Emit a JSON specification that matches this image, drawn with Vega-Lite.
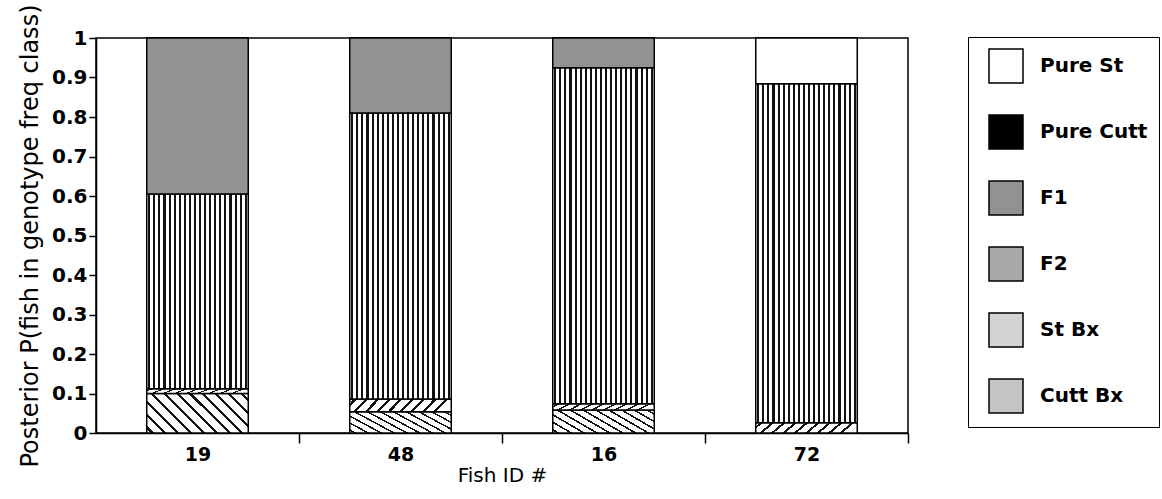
{
  "$schema": "https://vega.github.io/schema/vega-lite/v6.json",
  "width": 812,
  "height": 395,
  "autosize": "none",
  "padding": {"left": 96, "top": 38, "right": 254, "bottom": 66},
  "background": "white",
  "config": {
    "view": {"stroke": "black", "strokeWidth": 1.5},
    "font": "DejaVu Sans"
  },
  "data": {
    "values": [
      {"fish": "19", "cls": "Cutt Bx", "k": 1, "p": 0.10},
      {"fish": "19", "cls": "St Bx", "k": 2, "p": 0.012},
      {"fish": "19", "cls": "F2", "k": 3, "p": 0.493},
      {"fish": "19", "cls": "F1", "k": 4, "p": 0.395},
      {"fish": "48", "cls": "Cutt Bx", "k": 1, "p": 0.054},
      {"fish": "48", "cls": "St Bx", "k": 2, "p": 0.032},
      {"fish": "48", "cls": "F2", "k": 3, "p": 0.724},
      {"fish": "48", "cls": "F1", "k": 4, "p": 0.19},
      {"fish": "16", "cls": "Cutt Bx", "k": 1, "p": 0.058},
      {"fish": "16", "cls": "St Bx", "k": 2, "p": 0.016},
      {"fish": "16", "cls": "F2", "k": 3, "p": 0.851},
      {"fish": "16", "cls": "F1", "k": 4, "p": 0.075},
      {"fish": "72", "cls": "St Bx", "k": 2, "p": 0.026},
      {"fish": "72", "cls": "F2", "k": 3, "p": 0.858},
      {"fish": "72", "cls": "Pure St", "k": 6, "p": 0.116}
    ]
  },
  "encoding": {
    "x": {
      "field": "fish",
      "type": "nominal",
      "sort": ["19", "48", "16", "72"],
      "scale": {"paddingInner": 0.5, "paddingOuter": 0.25},
      "axis": {
        "title": "Fish ID #",
        "labelAngle": 0,
        "bandPosition": 1,
        "tickOffset": 50.75,
        "labelOffset": -50.75,
        "tickSize": 10,
        "tickColor": "black",
        "tickWidth": 1.5,
        "domainColor": "black",
        "domainWidth": 1.5,
        "labelFont": "DejaVu Sans",
        "labelFontSize": 19,
        "labelFontWeight": "bold",
        "labelColor": "black",
        "labelPadding": 2,
        "titleFont": "DejaVu Sans",
        "titleFontSize": 20,
        "titleFontWeight": "normal",
        "titleColor": "black",
        "titlePadding": 1
      }
    },
    "y": {
      "field": "p",
      "type": "quantitative",
      "stack": "zero",
      "scale": {"domain": [0, 1], "nice": false},
      "axis": {
        "title": "Posterior P(fish in genotype freq class)",
        "values": [0, 0.1, 0.2, 0.3, 0.4, 0.5, 0.6, 0.7, 0.8, 0.9, 1],
        "format": "~g",
        "grid": false,
        "domainColor": "black",
        "domainWidth": 1.5,
        "tickColor": "black",
        "tickWidth": 1.5,
        "tickSize": 7,
        "labelFont": "DejaVu Sans",
        "labelFontSize": 20,
        "labelFontWeight": "bold",
        "labelColor": "black",
        "labelPadding": 2,
        "titleFont": "DejaVu Sans",
        "titleFontSize": 24,
        "titleFontWeight": "normal",
        "titleColor": "black",
        "titlePadding": 9
      }
    }
  },
  "layer": [
    {
      "mark": {"type": "bar", "stroke": "black", "strokeWidth": 1.5},
      "encoding": {
        "color": {
          "field": "cls",
          "type": "nominal",
          "scale": {
            "domain": ["Pure St", "Pure Cutt", "F1", "F2", "St Bx", "Cutt Bx"],
            "range": ["#ffffff", "#000000", "#929292", "#a8a8a8", "#d4d4d4", "#c4c4c4"]
          },
          "legend": {
            "orient": "none",
            "legendX": 872,
            "legendY": -1,
            "title": null,
            "symbolType": "square",
            "symbolSize": 1156,
            "symbolStrokeColor": "black",
            "symbolStrokeWidth": 1.5,
            "symbolOpacity": 1,
            "labelFont": "DejaVu Sans",
            "labelFontSize": 20,
            "labelFontWeight": "bold",
            "labelColor": "black",
            "labelOffset": 16,
            "rowPadding": 26,
            "padding": 11,
            "symbolOffset": 9,
            "strokeColor": "black"
          }
        },
        "order": {"field": "k", "type": "quantitative"}
      }
    },
    {
      "mark": {"type": "bar", "stroke": "black", "strokeWidth": 1.5},
      "encoding": {
        "detail": {"field": "cls", "type": "nominal"},
        "order": {"field": "k", "type": "quantitative"},
        "fill": {
          "condition": [
            {"test": "datum.cls === 'F2'", "value": {"gradient": "linear", "x1": 0, "y1": 0, "x2": 1, "y2": 0, "stops": [
              {"offset": 0, "color": "#fff"},
              {"offset": 0.015, "color": "#fff"}, {"offset": 0.015, "color": "#111"}, {"offset": 0.035, "color": "#111"}, {"offset": 0.035, "color": "#fff"},
              {"offset": 0.065, "color": "#fff"}, {"offset": 0.065, "color": "#111"}, {"offset": 0.085, "color": "#111"}, {"offset": 0.085, "color": "#fff"},
              {"offset": 0.115, "color": "#fff"}, {"offset": 0.115, "color": "#111"}, {"offset": 0.135, "color": "#111"}, {"offset": 0.135, "color": "#fff"},
              {"offset": 0.165, "color": "#fff"}, {"offset": 0.165, "color": "#111"}, {"offset": 0.185, "color": "#111"}, {"offset": 0.185, "color": "#fff"},
              {"offset": 0.215, "color": "#fff"}, {"offset": 0.215, "color": "#111"}, {"offset": 0.235, "color": "#111"}, {"offset": 0.235, "color": "#fff"},
              {"offset": 0.265, "color": "#fff"}, {"offset": 0.265, "color": "#111"}, {"offset": 0.285, "color": "#111"}, {"offset": 0.285, "color": "#fff"},
              {"offset": 0.315, "color": "#fff"}, {"offset": 0.315, "color": "#111"}, {"offset": 0.335, "color": "#111"}, {"offset": 0.335, "color": "#fff"},
              {"offset": 0.365, "color": "#fff"}, {"offset": 0.365, "color": "#111"}, {"offset": 0.385, "color": "#111"}, {"offset": 0.385, "color": "#fff"},
              {"offset": 0.415, "color": "#fff"}, {"offset": 0.415, "color": "#111"}, {"offset": 0.435, "color": "#111"}, {"offset": 0.435, "color": "#fff"},
              {"offset": 0.465, "color": "#fff"}, {"offset": 0.465, "color": "#111"}, {"offset": 0.485, "color": "#111"}, {"offset": 0.485, "color": "#fff"},
              {"offset": 0.515, "color": "#fff"}, {"offset": 0.515, "color": "#111"}, {"offset": 0.535, "color": "#111"}, {"offset": 0.535, "color": "#fff"},
              {"offset": 0.565, "color": "#fff"}, {"offset": 0.565, "color": "#111"}, {"offset": 0.585, "color": "#111"}, {"offset": 0.585, "color": "#fff"},
              {"offset": 0.615, "color": "#fff"}, {"offset": 0.615, "color": "#111"}, {"offset": 0.635, "color": "#111"}, {"offset": 0.635, "color": "#fff"},
              {"offset": 0.665, "color": "#fff"}, {"offset": 0.665, "color": "#111"}, {"offset": 0.685, "color": "#111"}, {"offset": 0.685, "color": "#fff"},
              {"offset": 0.715, "color": "#fff"}, {"offset": 0.715, "color": "#111"}, {"offset": 0.735, "color": "#111"}, {"offset": 0.735, "color": "#fff"},
              {"offset": 0.765, "color": "#fff"}, {"offset": 0.765, "color": "#111"}, {"offset": 0.785, "color": "#111"}, {"offset": 0.785, "color": "#fff"},
              {"offset": 0.815, "color": "#fff"}, {"offset": 0.815, "color": "#111"}, {"offset": 0.835, "color": "#111"}, {"offset": 0.835, "color": "#fff"},
              {"offset": 0.865, "color": "#fff"}, {"offset": 0.865, "color": "#111"}, {"offset": 0.885, "color": "#111"}, {"offset": 0.885, "color": "#fff"},
              {"offset": 0.915, "color": "#fff"}, {"offset": 0.915, "color": "#111"}, {"offset": 0.935, "color": "#111"}, {"offset": 0.935, "color": "#fff"},
              {"offset": 0.965, "color": "#fff"}, {"offset": 0.965, "color": "#111"}, {"offset": 0.985, "color": "#111"}, {"offset": 0.985, "color": "#fff"},
              {"offset": 1, "color": "#fff"}]}},
            {"test": "datum.cls === 'Cutt Bx'", "value": {"gradient": "linear", "x1": 0, "y1": 1, "x2": 1.207, "y2": 0.53, "stops": [
              {"offset": 0, "color": "#fff"},
              {"offset": 0.03, "color": "#fff"}, {"offset": 0.03, "color": "#111"}, {"offset": 0.052, "color": "#111"}, {"offset": 0.052, "color": "#fff"},
              {"offset": 0.121, "color": "#fff"}, {"offset": 0.121, "color": "#111"}, {"offset": 0.143, "color": "#111"}, {"offset": 0.143, "color": "#fff"},
              {"offset": 0.212, "color": "#fff"}, {"offset": 0.212, "color": "#111"}, {"offset": 0.234, "color": "#111"}, {"offset": 0.234, "color": "#fff"},
              {"offset": 0.303, "color": "#fff"}, {"offset": 0.303, "color": "#111"}, {"offset": 0.325, "color": "#111"}, {"offset": 0.325, "color": "#fff"},
              {"offset": 0.394, "color": "#fff"}, {"offset": 0.394, "color": "#111"}, {"offset": 0.416, "color": "#111"}, {"offset": 0.416, "color": "#fff"},
              {"offset": 0.485, "color": "#fff"}, {"offset": 0.485, "color": "#111"}, {"offset": 0.507, "color": "#111"}, {"offset": 0.507, "color": "#fff"},
              {"offset": 0.576, "color": "#fff"}, {"offset": 0.576, "color": "#111"}, {"offset": 0.598, "color": "#111"}, {"offset": 0.598, "color": "#fff"},
              {"offset": 0.667, "color": "#fff"}, {"offset": 0.667, "color": "#111"}, {"offset": 0.689, "color": "#111"}, {"offset": 0.689, "color": "#fff"},
              {"offset": 0.758, "color": "#fff"}, {"offset": 0.758, "color": "#111"}, {"offset": 0.78, "color": "#111"}, {"offset": 0.78, "color": "#fff"},
              {"offset": 0.848, "color": "#fff"}, {"offset": 0.848, "color": "#111"}, {"offset": 0.87, "color": "#111"}, {"offset": 0.87, "color": "#fff"},
              {"offset": 0.939, "color": "#fff"}, {"offset": 0.939, "color": "#111"}, {"offset": 0.961, "color": "#111"}, {"offset": 0.961, "color": "#fff"},
              {"offset": 1, "color": "#fff"}]}},
            {"test": "datum.cls === 'St Bx'", "value": {"gradient": "linear", "x1": 0, "y1": 0, "x2": 1, "y2": 0.12, "stops": [
              {"offset": 0, "color": "#fff"},
              {"offset": 0.04, "color": "#fff"}, {"offset": 0.04, "color": "#111"}, {"offset": 0.07, "color": "#111"}, {"offset": 0.07, "color": "#fff"},
              {"offset": 0.151, "color": "#fff"}, {"offset": 0.151, "color": "#111"}, {"offset": 0.181, "color": "#111"}, {"offset": 0.181, "color": "#fff"},
              {"offset": 0.262, "color": "#fff"}, {"offset": 0.262, "color": "#111"}, {"offset": 0.292, "color": "#111"}, {"offset": 0.292, "color": "#fff"},
              {"offset": 0.373, "color": "#fff"}, {"offset": 0.373, "color": "#111"}, {"offset": 0.403, "color": "#111"}, {"offset": 0.403, "color": "#fff"},
              {"offset": 0.484, "color": "#fff"}, {"offset": 0.484, "color": "#111"}, {"offset": 0.514, "color": "#111"}, {"offset": 0.514, "color": "#fff"},
              {"offset": 0.595, "color": "#fff"}, {"offset": 0.595, "color": "#111"}, {"offset": 0.625, "color": "#111"}, {"offset": 0.625, "color": "#fff"},
              {"offset": 0.706, "color": "#fff"}, {"offset": 0.706, "color": "#111"}, {"offset": 0.736, "color": "#111"}, {"offset": 0.736, "color": "#fff"},
              {"offset": 0.817, "color": "#fff"}, {"offset": 0.817, "color": "#111"}, {"offset": 0.847, "color": "#111"}, {"offset": 0.847, "color": "#fff"},
              {"offset": 0.928, "color": "#fff"}, {"offset": 0.928, "color": "#111"}, {"offset": 0.958, "color": "#111"}, {"offset": 0.958, "color": "#fff"},
              {"offset": 1, "color": "#fff"}]}},
            {"test": "datum.cls === 'Pure St'", "value": "#ffffff"},
            {"test": "datum.cls === 'Pure Cutt'", "value": "#000000"}
          ],
          "value": "#929292"
        }
      }
    }
  ]
}
